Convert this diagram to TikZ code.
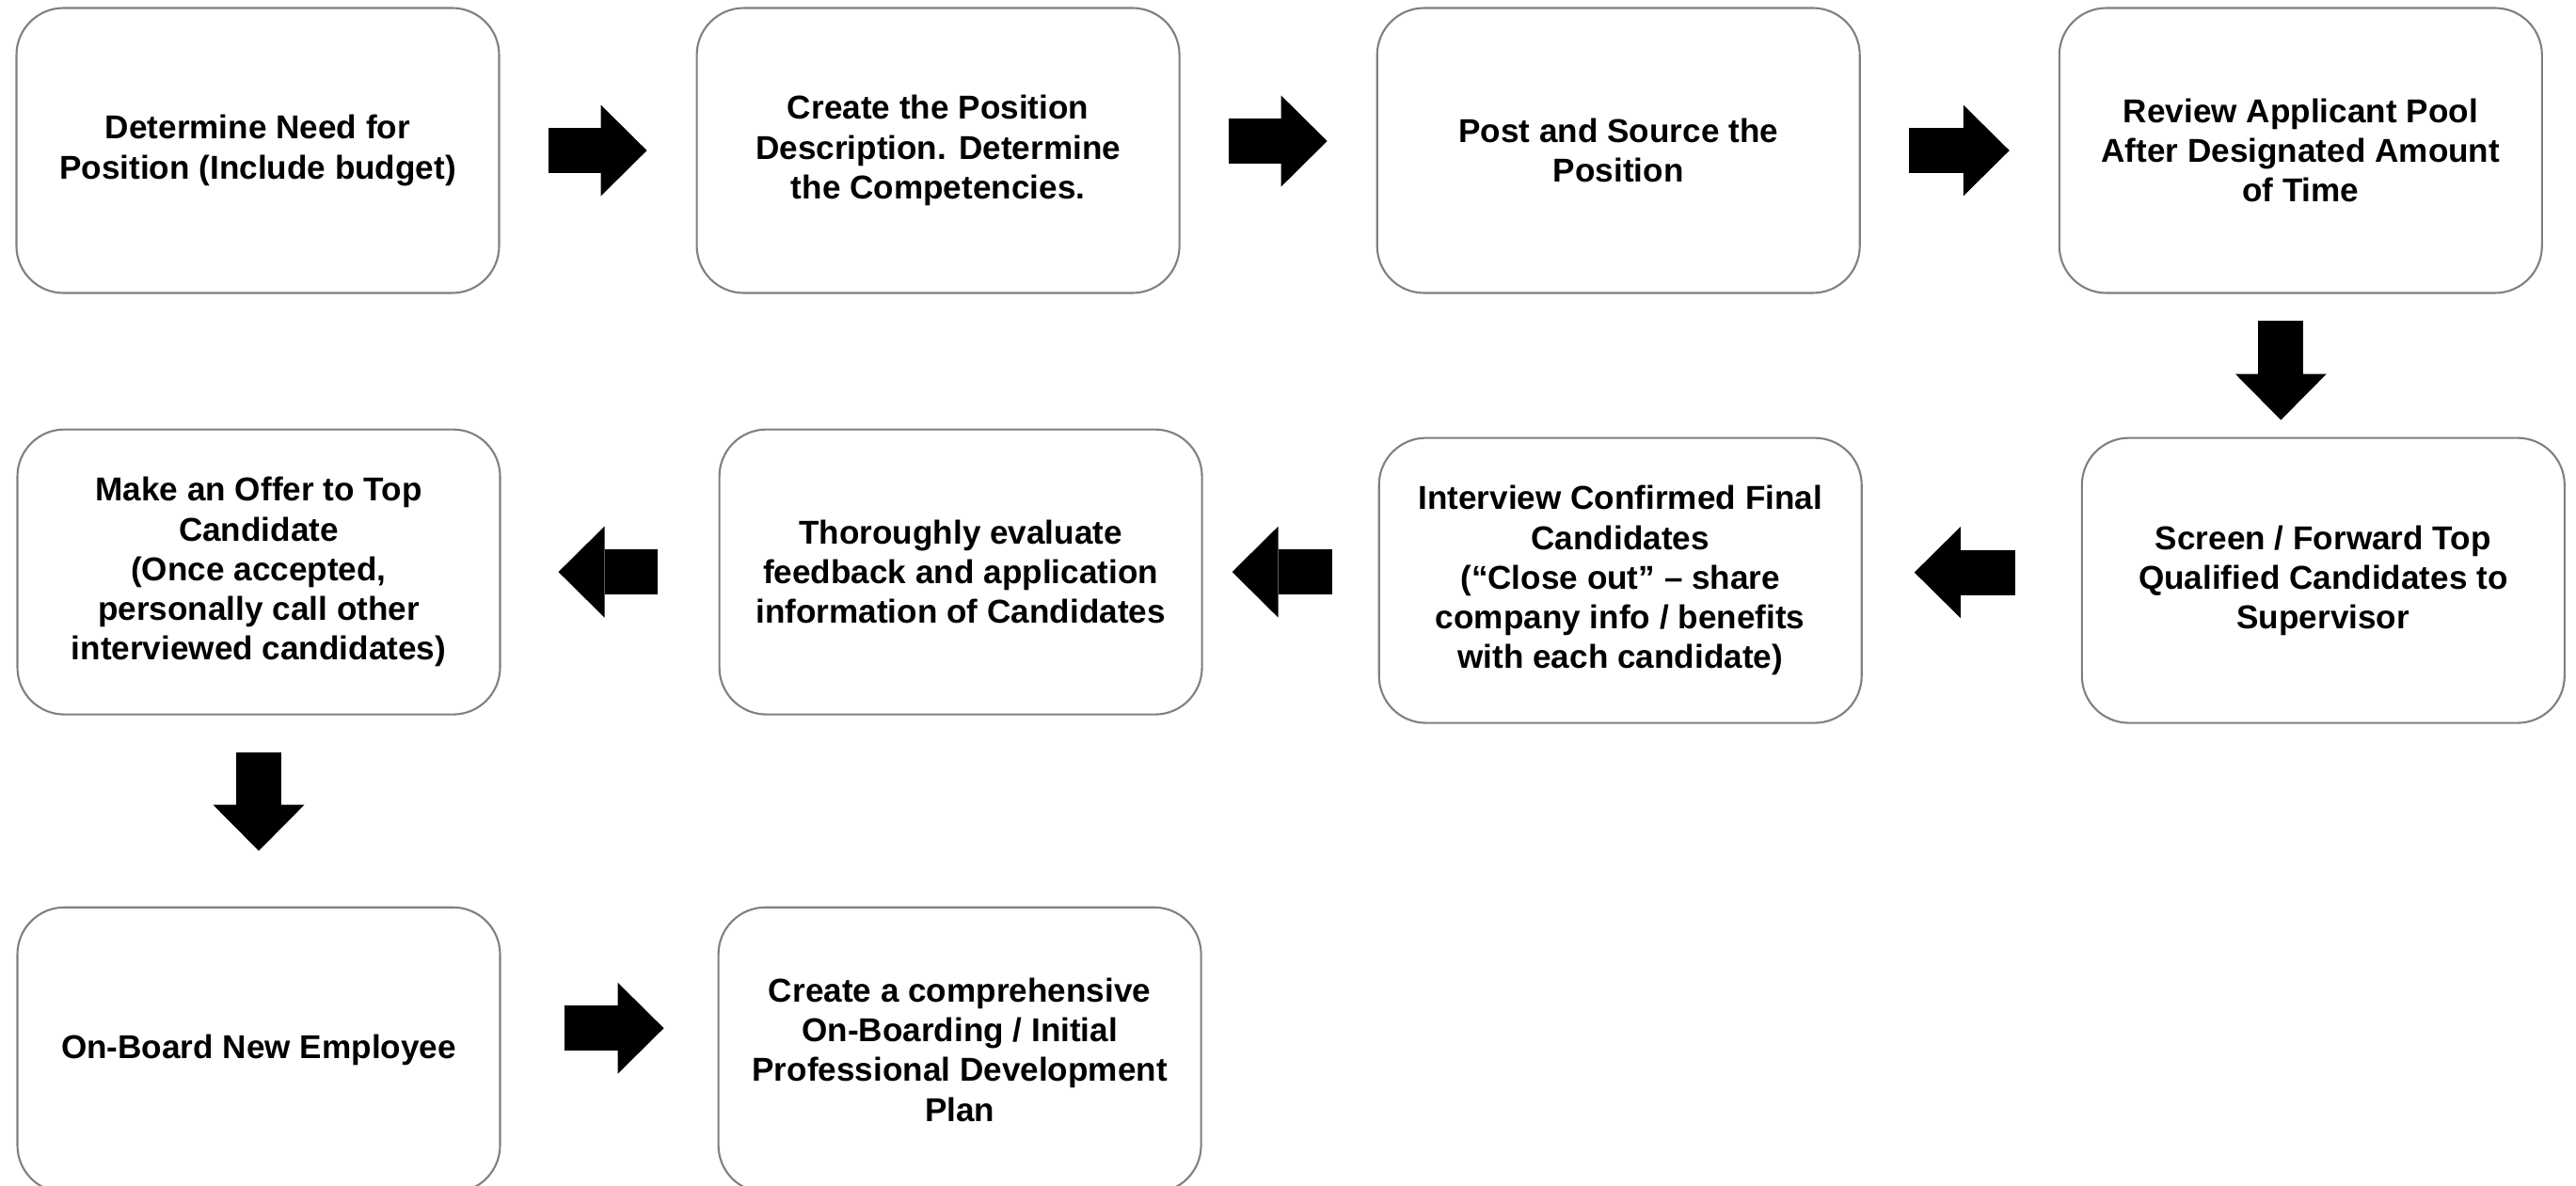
\documentclass[tikz,border=0pt]{standalone}
\usepackage{fontspec}
\setmainfont{Liberation Sans}
\usepackage{xcolor}
\usepackage{tikz}
\usetikzlibrary{positioning,arrows.meta}
\definecolor{boxgray}{RGB}{128,128,128}

\begin{document}
\begin{tikzpicture}[
  box/.style={draw=boxgray, line width=0.6pt, rounded corners=0.5cm, minimum width=5.13cm, minimum height=3.03cm, inner sep=0pt, align=center, font=\bfseries\fontsize{10}{12}\selectfont},
  flow/.style={line width=0.48cm, -{Triangle[width=0.97cm,length=0.49cm,line width=0pt]}, shorten <=0.51cm, shorten >=0.52cm}
]
\useasboundingbox (0,0) rectangle (27.38,-12.61);

\node(Need)      [box] at (2.74,-1.60)                       {Determine Need for\\Position (Include budget)};
\node(Describe)  [box, right = 2.08cm of Need]               {Create the Position\\Description. Determine\\the Competencies.};
\node(Post)      [box, right = 2.08cm of Describe]           {Post and Source the\\Position};
\node(Review)    [box, right = 2.10cm of Post]               {Review Applicant Pool\\After Designated Amount\\of Time};
\node(Screen)    [box, below = 1.52cm of Review, xshift=0.24cm] {Screen / Forward Top\\Qualified Candidates to\\Supervisor};
\node(Interview) [box, left = 2.32cm of Screen]              {Interview Confirmed Final\\Candidates\\(``Close out'' -- share\\company info / benefits\\with each candidate)};
\node(Evaluate)  [box, left = 1.86cm of Interview, yshift=0.09cm] {Thoroughly evaluate\\feedback and application\\information of Candidates};
\node(Offer)     [box, left = 2.31cm of Evaluate]            {Make an Offer to Top\\Candidate\\(Once accepted,\\personally call other\\interviewed candidates)};
\node(Onboard)   [box, below = 2.03cm of Offer]              {On-Board New Employee};
\node(Plan)      [box, right = 2.30cm of Onboard]            {Create a comprehensive\\On-Boarding / Initial\\Professional Development\\Plan};

% block arrows between the steps
\draw[flow] (Need.east) -- (Describe.west);
\draw[flow] ([yshift=.1cm]Describe.east) -- ([yshift=.1cm]Post.west);
\draw[flow] (Post.east) -- (Review.west);
\draw[flow, shorten <=.28cm, shorten >=.18cm] ([xshift=-.21cm]Review.south) -- ([xshift=-.21cm]Review.south |- Screen.north);
\draw[flow, shorten <=.70cm, shorten >=.55cm] ([yshift=.085cm]Screen.west) -- ([yshift=.085cm]Interview.east);
\draw[flow, shorten <=.49cm, shorten >=.31cm] (Interview.west |- Evaluate.east) -- (Evaluate.east);
\draw[flow, shorten <=.65cm, shorten >=.61cm] (Evaluate.west) -- (Offer.east);
\draw[flow, shorten <=.39cm, shorten >=.59cm] (Offer.south) -- (Onboard.north);
\draw[flow, shorten <=.67cm, shorten >=.57cm] ([yshift=.23cm]Onboard.east) -- ([yshift=.23cm]Plan.west);
\end{tikzpicture}
\end{document}
